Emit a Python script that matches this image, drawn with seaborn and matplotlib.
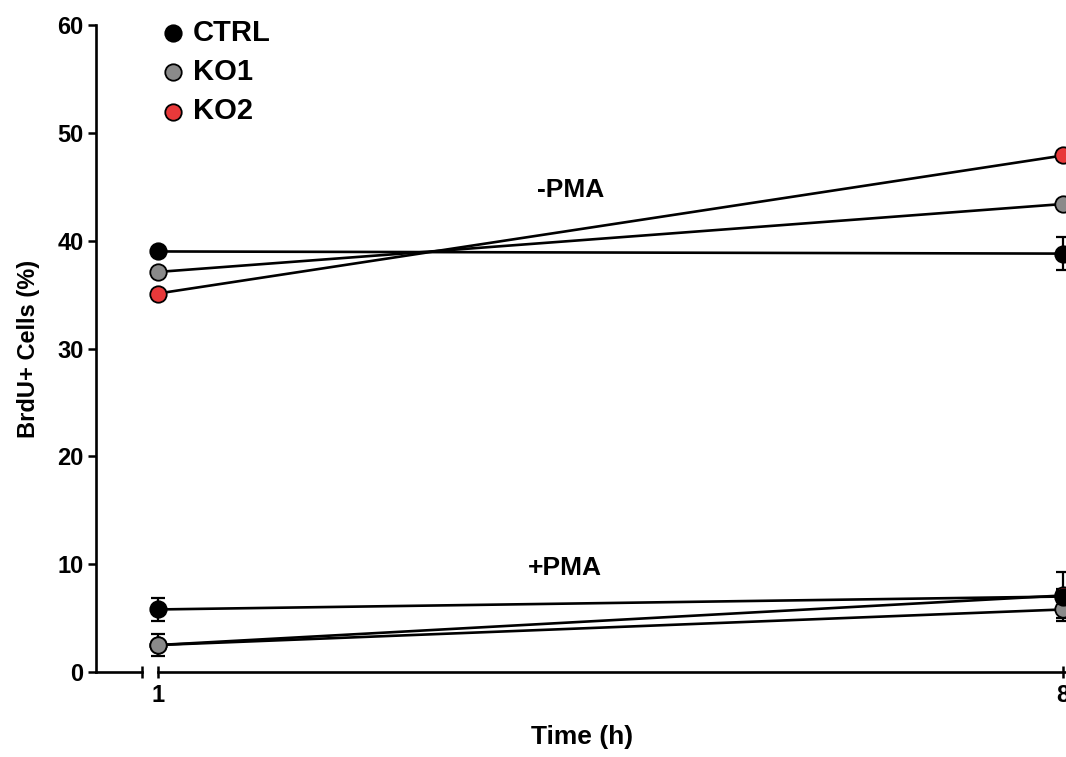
import pandas as pd
import seaborn as sns
import matplotlib.pyplot as plt

# values
times = [1, 8]
genotypes = ["CTRL", "KO1", "KO2"]
minus_pma = {"CTRL": [39.0, 38.8], "KO1": [37.1, 43.4], "KO2": [35.1, 47.9]}
minus_pma_err = {"CTRL": [0.3, 1.5], "KO1": [0.3, 0.4], "KO2": [0.3, 0.4]}
plus_pma = {"CTRL": [5.8, 7.0], "KO1": [2.5, 5.8], "KO2": [2.5, 7.1]}
plus_pma_err = {"CTRL": [1.1, 2.3], "KO1": [1.0, 0.8], "KO2": [0.3, 0.6]}
colors = {"CTRL": "#000000", "KO1": "#8a8a8a", "KO2": "#e8393a"}
yticks = [0, 10, 20, 30, 40, 50, 60]


def set_config():
    sns.set_style("ticks")
    plt.rcParams["font.family"] = ["Liberation Sans", "DejaVu Sans"]
    plt.rcParams["font.weight"] = "bold"
    plt.rcParams["axes.labelweight"] = "bold"
    plt.rcParams["text.color"] = "black"
    plt.rcParams["axes.labelcolor"] = "black"
    plt.rcParams["xtick.color"] = "black"
    plt.rcParams["ytick.color"] = "black"
    plt.rcParams["axes.edgecolor"] = "black"


def build_frame():
    rows = []
    for cond, vals, errs in [("-PMA", minus_pma, minus_pma_err), ("+PMA", plus_pma, plus_pma_err)]:
        for g in genotypes:
            for t, v, e in zip(times, vals[g], errs[g]):
                rows.append({"time": t, "genotype": g, "condition": cond, "value": v, "err": e})
    return pd.DataFrame(rows)


def main():
    set_config()
    df = build_frame()

    fig = plt.figure(figsize=(10.66, 7.57), dpi=100)
    bottom, height = 85 / 757, 647 / 757
    ax_left = fig.add_axes([96 / 1066, bottom, 46 / 1066, height])
    ax = fig.add_axes([158 / 1066, bottom, 944 / 1066, height], sharey=ax_left)

    # connecting lines, all black
    df["line_id"] = df["genotype"] + df["condition"]
    sns.lineplot(data=df, x="time", y="value", units="line_id", estimator=None,
                 color="black", linewidth=1.9, ax=ax, legend=False, zorder=2)

    # error bars
    for g in genotypes:
        sub = df[df.genotype == g]
        ax.errorbar(sub["time"], sub["value"], yerr=sub["err"], fmt="none",
                    ecolor="black", elinewidth=1.6, capsize=5, capthick=1.6,
                    zorder=3, clip_on=False)

    # markers: KO2 first so CTRL/KO1 sit on top where points overlap
    for i, g in enumerate(reversed(genotypes)):
        sns.scatterplot(data=df[df.genotype == g], x="time", y="value", color=colors[g],
                        s=140, edgecolor="black", linewidth=1.3, label=g,
                        ax=ax, zorder=4 + i, clip_on=False)

    ax.set_xlim(1, 8.3)
    ax.set_ylim(0, 60)
    ax.set_xticks(times)
    ax.set_xticklabels([str(t) for t in times])
    ax.tick_params(axis="x", direction="inout", length=9, width=1.8, labelsize=17, pad=4)
    ax.tick_params(axis="y", left=False, labelleft=False)
    for s in ["left", "top", "right"]:
        ax.spines[s].set_visible(False)
    ax.spines["bottom"].set_linewidth(1.9)
    ax.set_ylabel("")
    ax.set_xlabel("Time (h)", fontsize=19, fontweight="bold")
    ax.xaxis.set_label_coords(582 / 1066, 32 / 757, transform=fig.transFigure)

    ax.text(4.19, 44.7, "-PMA", fontsize=19, fontweight="bold", ha="center", va="center")
    ax.text(4.15, 9.6, "+PMA", fontsize=19, fontweight="bold", ha="center", va="center")

    # left stub of the broken x axis
    ax_left.set_xlim(0, 1)
    ax_left.set_xticks([1])
    ax_left.set_xticklabels([""])
    ax_left.tick_params(axis="x", direction="inout", length=9, width=1.8)
    ax_left.set_yticks(yticks)
    ax_left.tick_params(axis="y", direction="out", length=6, width=1.8, labelsize=17, pad=3)
    for s in ["top", "right"]:
        ax_left.spines[s].set_visible(False)
    ax_left.spines["left"].set_linewidth(1.9)
    ax_left.spines["bottom"].set_linewidth(1.9)
    ax_left.set_ylabel("BrdU+ Cells (%)", fontsize=17, fontweight="bold", labelpad=12)

    handles, labels = ax.get_legend_handles_labels()
    order = [labels.index(g) for g in genotypes]
    ax.legend([handles[i] for i in order], genotypes, loc="upper left",
              bbox_to_anchor=(155 / 1066, 738 / 757),
              bbox_transform=fig.transFigure, frameon=False, fontsize=21,
              handlelength=1.2, handletextpad=0.1, labelspacing=0.38,
              borderaxespad=0, borderpad=0, markerscale=1.0)

    fig.savefig("out.png", dpi=100)


if __name__ == "__main__":
    main()
